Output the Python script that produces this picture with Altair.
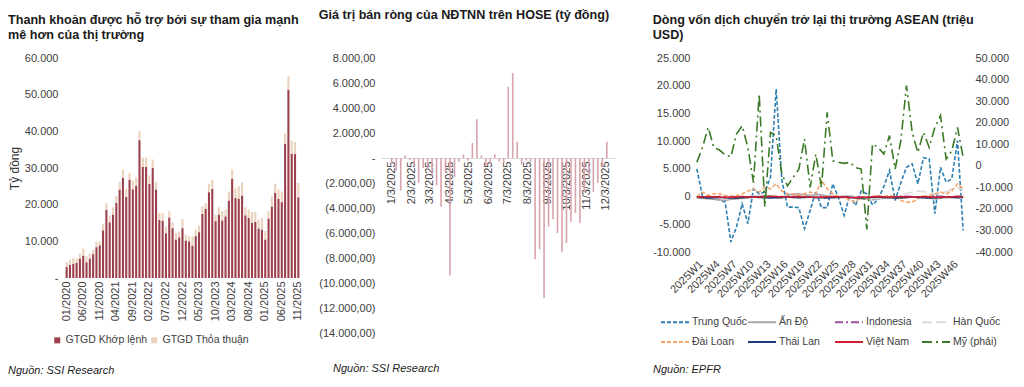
import altair as alt
import pandas as pd

FONT = "Liberation Sans"

# ---------------- Panel 1: liquidity ----------------
months = [f"{m:02d}/{y}" for y in range(2020, 2026) for m in range(1, 13)][:71]
khop = [3000, 3600, 3900, 4100, 5300, 6100, 4300, 5300, 6500, 8400,
        8900, 13000, 18600, 15200, 17300, 20500, 24100, 27300, 22100, 26800,
        24200, 25200, 37600, 30300, 30300, 25700, 30000, 24100, 15800, 15600,
        12200, 16500, 13600, 10500, 11100, 13600, 10200, 10000, 8800, 11400,
        12500, 17500, 18900, 23400, 24300, 15500, 17300, 15700, 16800, 21100,
        27100, 21800, 21600, 22500, 17100, 16400, 15000, 15300, 13500, 13200,
        10500, 16200, 19500, 23200, 21600, 20700, 36600, 51300, 33900, 33800, 22000]
thoa = [1400, 1400, 1500, 1200, 1400, 1900, 1600, 1300, 1200, 1400,
        1100, 1700, 1800, 1900, 2000, 1800, 2100, 2300, 2300, 1800,
        2400, 2300, 2400, 2500, 2600, 2300, 2300, 2100, 1900, 2100,
        1900, 1800, 1600, 1800, 1600, 2500, 1600, 1400, 2500, 1800,
        1800, 2100, 1500, 2300, 2500, 1800, 2000, 2600, 1800, 2500,
        2500, 2700, 3400, 3600, 2200, 2300, 3000, 2700, 2500, 3200,
        2300, 2000, 2700, 2500, 2500, 2900, 2800, 3700, 3500, 3300, 3900]
tick1 = ["01/2020", "06/2020", "11/2020", "04/2021", "09/2021", "02/2022", "07/2022",
         "12/2022", "05/2023", "10/2023", "03/2024", "08/2024", "01/2025", "06/2025", "11/2025"]
series1 = ["GTGD Khớp lệnh", "GTGD Thỏa thuận"]
colors1 = ["#8B1E2E", "#E6CAB0"]
yticks1 = [0, 10000, 20000, 30000, 40000, 50000, 60000]
title1 = ["Thanh khoản được hỗ trợ bởi sự tham gia mạnh", "mê hơn của thị trường"]
source1 = "Nguồn: SSI Research"

# ---------------- Panel 2: foreign net selling ----------------
weeks2 = [d.strftime("%Y-%m-%dT00:00:00") for d in pd.date_range("2025-01-03", periods=49, freq="7D")]
net2 = [-450, -1000, -2600, 200, -150, -600, -2000, -800, -900, -1400,
        -2200, -3900, -1200, -9400, -1500, -300, 300, -200, 1200, 3100,
        200, -600, -500, 300, -300, -400, 5700, 6800, 1300, -500,
        -200, -300, -8100, -7300, -11200, -5500, -4900, -6000, -7500, -6800,
        -5100, -4400, -5200, -2700, -1500, -2700, -2000, -700, 1300]
yticks2 = [8000, 6000, 4000, 2000, 0, -2000, -4000, -6000, -8000, -10000, -12000, -14000]
title2 = ["Giá trị bán ròng của NĐTNN trên HOSE (tỷ đồng)", " "]
source2 = "Nguồn: SSI Research"

# ---------------- Panel 3: ASEAN flows ----------------
weeks3 = [f"2025W{i}" for i in range(1, 49)]
tick3 = [f"2025W{i}" for i in [1, 4, 7, 10, 13, 16, 19, 22, 25, 28, 31, 34, 37, 40, 43, 46]]
china = [5000, 0, -100, -300, -600, -1000, -8200, -5500, -1300, -4900,
         1400, 500, 800, 3500, 19400, 3000, -1900, -1900, -2000, -5800,
         -2500, 1000, -2000, -2000, 2300, -200, -3400, 300, -1600, 1000,
         500, -1500, -500, 1800, 4700, -700, 2500, 5300, 5900, 2300,
         7000, 6800, -3100, 5300, 2600, 3200, 10100, -6100]
india = [-200, -300, -400, -500, -600, -700, -500, -400, -300, -200,
         -100, 0, 200, 100, -200, -300, 300, 400, 500, 300,
         200, 400, 300, 100, 0, -100, -200, 100, -300, -400,
         -500, -600, -400, -300, -200, -100, -300, -200, -100, 0,
         -200, -300, -400, -300, -200, -100, 100, 0]
indonesia = [0, -50, -100, -50, 0, 50, 0, -50, -100, -50,
             0, -50, -100, -150, -100, -50, 0, 50, 0, -50,
             -100, -50, 0, -50, -100, -50, 0, 50, 0, -50,
             -100, -50, 0, -50, -100, -50, 0, 50, 0, -50,
             -100, -50, 0, 50, 0, -50, -100, -50]
korea = [-300, -200, -100, -200, -300, -400, -300, -200, -100, 0,
         200, 100, -200, 0, 300, 100, -100, -300, -200, -100,
         0, 100, -200, -300, -100, 0, 200, 100, -100, -200,
         -400, -600, -300, -100, 200, -200, 300, 500, 800, 1000,
         900, 700, 400, 600, 900, 1300, 1600, 1200]
taiwan = [0, 800, 200, 500, 500, 200, 0, 200, 500, 1000,
          1400, 800, 1700, 1400, 2300, 1000, 500, 500, 200, 500,
          800, 500, 2900, 1400, 500, 0, 0, -700, -1000, 0,
          -400, 0, 200, 0, 200, 0, -700, -1000, -1000, -400,
          0, 200, 500, 800, 500, 1000, 2300, 1400]
thailand = [-150, -200, -250, -200, -150, -200, -250, -300, -200, -150,
            -100, -150, -200, -250, -200, -150, -100, -150, -200, -150,
            -100, -150, -200, -250, -200, -150, -100, -150, -200, -250,
            -200, -150, -100, -150, -200, -250, -200, -150, -100, -150,
            -200, -250, -200, -150, -100, -150, -200, -150]
vietnam = [-100, -50, 0, -50, -100, -150, -100, -50, 0, -50,
           -100, -50, 0, 50, 0, -50, -100, -50, 0, -50,
           -100, -150, -100, -50, 0, -50, -100, -150, -200, -150,
           -100, -50, 0, -50, -100, -50, 0, -50, -100, -50,
           0, -50, -100, -150, -100, -50, 0, -50]
usa = [1600, 8500, 17800, 8500, 7300, 5100, 4200, 14700, 18600, 8500,
       -7800, 33300, -19000, 15500, 14000, -3900, -9300, -5400, -1600, 12400,
       -10000, 5400, -10000, 24800, 2300, 1600, 1100, 1600, -800, -1500,
       -29500, 10100, 8500, 5400, 14000, -1500, 11600, 37200, 15500, 6200,
       15500, 8500, 17800, 23300, 3100, 7000, 17800, 3900]
names3 = ["Trung Quốc", "Ấn Độ", "Indonesia", "Hàn Quốc", "Đài Loan", "Thái Lan", "Việt Nam", "Mỹ (phải)"]
colors3 = ["#2C7FB0", "#A6A6A6", "#9B4F9F", "#DCDCDC", "#F4A66E", "#1F3A7A", "#D0202E", "#3B7A27"]
dashes3 = [[4, 2], [1, 0], [8, 3, 2, 3], [10, 4], [4, 2], [1, 0], [1, 0], [10, 4, 2, 4]]
yticks3l = [-10000, -5000, 0, 5000, 10000, 15000, 20000, 25000]
yticks3r = [-40000, -30000, -20000, -10000, 0, 10000, 20000, 30000, 40000, 50000]
title3 = ["Dòng vốn dịch chuyển trở lại thị trường ASEAN (triệu", "USD)"]
source3 = "Nguồn: EPFR"

# ---------------- label formats ----------------
fmt_dash0 = "datum.value == 0 ? '-' : replace(format(datum.value, ','), ',', '.')"
fmt_acc = ("datum.value == 0 ? '-' : (datum.value < 0 ? '(' : '') + "
           "replace(replace(replace(format(abs(datum.value), ',.2f'), ',', '#'), '.', ','), '#', '.')"
           " + (datum.value < 0 ? ')' : '')")
fmt_plain = "(datum.value < 0 ? '-' : '') + replace(format(abs(datum.value), ','), ',', '.')"


def source_layer(text, dx, dy):
    return alt.Chart(pd.DataFrame({"t": [text]})).mark_text(
        align="left", baseline="middle", fontStyle="italic", fontSize=11, font=FONT, color="#222222"
    ).encode(text="t:N", x=alt.value(dx), y=alt.value(dy))


TITLE_KW = dict(anchor="start", lineHeight=15.5, fontSize=12.6)

# ---- panel 1 chart
W1, H1 = 235, 220
df1 = pd.DataFrame({
    "month": months + months,
    "kind": [series1[0]] * len(khop) + [series1[1]] * len(thoa),
    "value": khop + thoa,
    "ord": [0] * len(khop) + [1] * len(thoa),
})
bars1 = alt.Chart(df1).mark_bar(size=2.1).encode(
    x=alt.X("month:N", sort=months,
            axis=alt.Axis(values=tick1, labelAngle=-90, title=None, labelPadding=3)),
    y=alt.Y("value:Q", stack="zero", scale=alt.Scale(domain=[0, 60000], nice=False),
            axis=alt.Axis(values=yticks1, labelExpr=fmt_dash0, title="Tỷ đồng", titleFontSize=12,
                          titleFontWeight="normal", titleColor="#333333", titlePadding=3, labelPadding=7)),
    color=alt.Color("kind:N", scale=alt.Scale(domain=series1, range=colors1),
                    legend=alt.Legend(orient="none", legendX=-13, legendY=277, direction="horizontal",
                                      title=None, symbolType="square", symbolSize=36, symbolStrokeWidth=0,
                                      labelOffset=3, columnPadding=1, labelFontSize=10.5)),
    order=alt.Order("ord:Q"),
    opacity=alt.value(0.85),
)
p1 = alt.layer(bars1, source_layer(source1, -57, 313)).properties(
    width=W1, height=H1, title=alt.TitleParams(title1, offset=10, **TITLE_KW)
)

# ---- panel 2 chart
W2, H2 = 234, 275
df2 = pd.DataFrame({"date": weeks2, "value": net2})
bars2 = alt.Chart(df2).mark_bar(size=1.6, color="#D9A3AB").encode(
    x=alt.X("date:T",
            scale=alt.Scale(domain=[alt.DateTime(year=2024, month=12, date=25),
                                    alt.DateTime(year=2025, month=12, date=10)]),
            axis=alt.Axis(values=[alt.DateTime(year=2025, month=m, date=3) for m in range(1, 13)],
                          format="%-m/%-d/%Y", labelAngle=-90, title=None, offset=-175,
                          domain=True, domainColor="#D9D9D9", labelPadding=3)),
    y=alt.Y("value:Q", scale=alt.Scale(domain=[-14000, 8000], nice=False),
            axis=alt.Axis(values=yticks2, labelExpr=fmt_acc, title=None, labelPadding=6)),
)
p2 = alt.layer(bars2, source_layer(source2, -48, 311)).properties(
    width=W2, height=H2, title=alt.TitleParams(title2, offset=15, **TITLE_KW)
)

# ---- panel 3 chart
W3, H3 = 272, 194
left_series = {"Trung Quốc": china, "Ấn Độ": india, "Indonesia": indonesia, "Hàn Quốc": korea,
               "Đài Loan": taiwan, "Thái Lan": thailand, "Việt Nam": vietnam}
rows = []
for name, vals in left_series.items():
    for w, v in zip(weeks3, vals):
        rows.append({"week": w, "market": name, "value": v})
df3 = pd.DataFrame(rows)
df3r = pd.DataFrame({"week": weeks3, "market": ["Mỹ (phải)"] * len(usa), "value": usa})

xenc3 = alt.X("week:N", sort=weeks3, scale=alt.Scale(type="point", padding=0.5),
              axis=alt.Axis(values=tick3, labelAngle=-45, title=None, labelPadding=6))
leg3 = alt.Legend(orient="none", legendX=-27, legendY=256, columns=4, direction="horizontal", title=None,
                  symbolType="M-2,0L2,0", symbolSize=196, symbolStrokeWidth=2, labelOffset=9,
                  columnPadding=-4, rowPadding=6, gridAlign="all", labelFontSize=10.5)
cenc3 = alt.Color("market:N", scale=alt.Scale(domain=names3, range=colors3), legend=leg3)
denc3 = alt.StrokeDash("market:N", scale=alt.Scale(domain=names3, range=dashes3), legend=leg3)

left3 = alt.Chart(df3).mark_line(strokeWidth=1.6).encode(
    x=xenc3,
    y=alt.Y("value:Q", scale=alt.Scale(domain=[-10000, 25000], nice=False),
            axis=alt.Axis(values=yticks3l, labelExpr=fmt_plain, title=None, labelPadding=4)),
    color=cenc3, strokeDash=denc3,
)
right3 = alt.Chart(df3r).mark_line(strokeWidth=1.6).encode(
    x=xenc3,
    y=alt.Y("value:Q", scale=alt.Scale(domain=[-40000, 50000], nice=False),
            axis=alt.Axis(values=yticks3r, labelExpr=fmt_plain, title=None, orient="right", labelPadding=9)),
    color=cenc3, strokeDash=denc3,
)
p3 = alt.layer(left3, right3, source_layer(source3, -41, 312)).resolve_scale(y="independent").properties(
    width=W3, height=H3, title=alt.TitleParams(title3, offset=10, **TITLE_KW)
)

chart = alt.hconcat(
    alt.hconcat(p1, p2, spacing=15).resolve_scale(color="independent"), p3, spacing=37
).resolve_scale(color="independent", strokeDash="independent").properties(
    padding={"left": 0, "top": 0, "right": 0, "bottom": 0}
).configure_view(stroke=None).configure_axis(
    grid=False, domain=False, ticks=False, labelFont=FONT, labelFontSize=11, labelColor="#404040", titleFont=FONT
).configure_title(
    font=FONT, fontWeight="bold", color="#1A1A1A", anchor="start"
).configure_legend(
    labelFont=FONT, labelColor="#404040"
)

chart.save("out.html", embed_options={"renderer": "svg", "actions": False})
